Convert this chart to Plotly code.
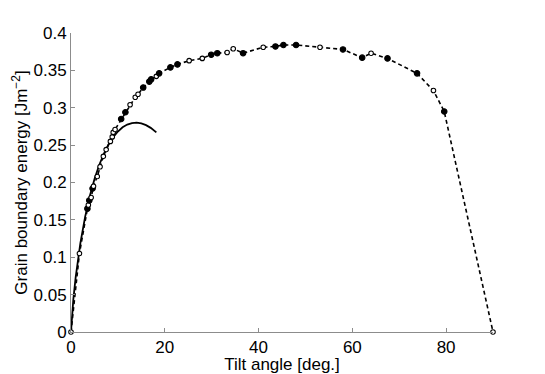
import plotly.graph_objects as go

# measured tilt boundary energies (deg., J/m^2)
angle = [0.0, 1.8, 3.5, 3.7, 3.9, 4.3, 4.6, 4.8, 5.6, 6.2, 6.9, 7.5, 8.4, 8.8, 9.0, 9.4,
         10.7, 11.6, 12.6, 13.7, 14.3, 15.4, 16.7, 17.1, 18.2, 18.8, 21.2, 22.7, 25.2, 28.0,
         29.9, 31.2, 33.3, 34.6, 36.7, 41.0, 43.6, 45.3, 48.0, 53.1, 58.0, 62.1, 64.0, 67.5,
         73.8, 77.3, 79.6, 90.0]
energy = [0.0, 0.105, 0.165, 0.170, 0.176, 0.180, 0.192, 0.195, 0.208, 0.221, 0.235, 0.244,
          0.255, 0.261, 0.267, 0.271, 0.285, 0.294, 0.304, 0.314, 0.318, 0.327, 0.335, 0.338,
          0.342, 0.346, 0.354, 0.358, 0.363, 0.366, 0.371, 0.373, 0.374, 0.379, 0.373, 0.381,
          0.382, 0.384, 0.384, 0.381, 0.378, 0.367, 0.373, 0.366, 0.346, 0.323, 0.295, 0.0]
filled = [0, 0, 1, 0, 1, 0, 1, 0, 0, 0, 0, 0, 0, 0, 0, 0,
          1, 1, 0, 0, 0, 1, 1, 1, 0, 1, 1, 1, 0, 0,
          1, 1, 0, 0, 1, 0, 1, 1, 1, 0, 1, 1, 0, 1,
          1, 0, 1, 0]

# Read-Shockley fit curve
fit_angle = [0, 0.1, 0.25, 0.5, 1, 2, 3, 4, 5, 6, 7, 8, 9, 10, 11, 12, 13, 14, 15, 16, 17, 18, 18.2]
fit_energy = [0, 0.012, 0.0254, 0.0438, 0.0735, 0.1189, 0.1537, 0.1816, 0.2044, 0.2231, 0.2384,
              0.2508, 0.2607, 0.2682, 0.2738, 0.2775, 0.2795, 0.2800, 0.2790, 0.2767, 0.2731,
              0.2682, 0.2670]

fig = go.Figure()
fig.add_trace(go.Scatter(x=fit_angle, y=fit_energy, mode="lines",
                         line=dict(color="black", width=1.8), showlegend=False))
fig.add_trace(go.Scatter(x=angle, y=energy, mode="lines",
                         line=dict(color="black", width=1.6, dash="4px,3px"),
                         showlegend=False, cliponaxis=False))
fig.add_trace(go.Scatter(
    x=angle, y=energy, mode="markers", cliponaxis=False, showlegend=False,
    marker=dict(size=[5.5 if f else 4.5 for f in filled], opacity=1,
                color=["black" if f else "white" for f in filled],
                line=dict(color="black", width=1.1))))

axis_common = dict(showgrid=False, zeroline=False, showline=True, linecolor="#8c8c8c",
                   linewidth=1, ticks="inside", ticklen=4, tickcolor="#8c8c8c",
                   tickfont=dict(size=17, color="black"), mirror=False)
fig.update_xaxes(range=[0, 90], tickvals=[0, 20, 40, 60, 80], automargin=False,
                 title=dict(text="Tilt angle [deg.]", font=dict(size=17, color="black")),
                 **axis_common)
fig.update_yaxes(range=[0, 0.4], tickvals=[0, 0.05, 0.1, 0.15, 0.2, 0.25, 0.3, 0.35, 0.4],
                 ticktext=["0", "0.05", "0.1", "0.15", "0.2", "0.25", "0.3", "0.35", "0.4"],
                 automargin=True,
                 title=dict(text="Grain boundary energy [Jm<sup>−2</sup>]",
                            font=dict(size=17, color="black"), standoff=1),
                 **axis_common)
# page body adds an 8px offset, so the figure is shrunk to fit the window
fig.update_layout(width=537, height=366, margin=dict(l=63, r=52, t=25, b=42),
                  plot_bgcolor="white", paper_bgcolor="white",
                  font=dict(family="Liberation Sans, Arial, sans-serif", color="black"))
fig.write_html("out.html")
